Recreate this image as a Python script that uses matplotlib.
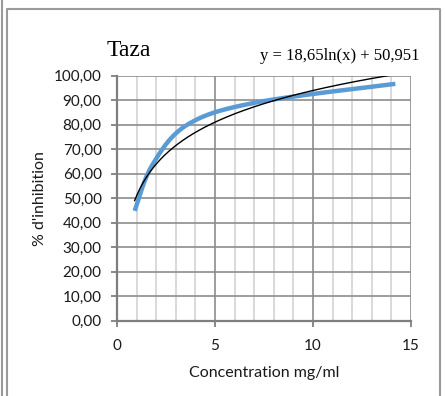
import numpy as np
import matplotlib
matplotlib.use("Agg")
import matplotlib.pyplot as plt
from matplotlib.lines import Line2D

# Measured inhibition data
concentration = [0.9, 1.8, 3.6, 7.1, 14.2]
inhibition = [44.8, 63.5, 80.0, 89.0, 96.6]

# Logarithmic trendline coefficients
trend_a = 18.65
trend_b = 50.951

title = "Taza"
equation = "y = 18,65ln(x) + 50,951"
x_label = "Concentration mg/ml"
y_label = "% d'inhibition"
y_ticks = list(range(0, 101, 10))
x_ticks = [0, 5, 10, 15]


def smooth_curve(xs, ys, n=40):
    """Cardinal (Catmull-Rom style) Bezier smoothing through the points."""
    p = np.column_stack([xs, ys]).astype(float)
    out = []
    for i in range(len(p) - 1):
        p0 = p[i - 1] if i > 0 else p[i]
        p1, p2 = p[i], p[i + 1]
        p3 = p[i + 2] if i + 2 < len(p) else p[i + 1]
        c1 = p1 + (p2 - p0) / 6.0
        c2 = p2 - (p3 - p1) / 6.0
        t = np.linspace(0, 1, n)[:, None]
        seg = ((1 - t) ** 3) * p1 + 3 * ((1 - t) ** 2) * t * c1 \
            + 3 * (1 - t) * t ** 2 * c2 + t ** 3 * p2
        out.append(seg if i == 0 else seg[1:])
    seg = np.vstack(out)
    return seg[:, 0], seg[:, 1]


W, H = 445, 396
fig = plt.figure(figsize=(W / 100, H / 100), dpi=100)

# Outer chart frame
fig.add_artist(Line2D([1.5 / W, 1.5 / W], [0, 1], color="#9a9a9a", lw=1.5,
                      transform=fig.transFigure))
fig.add_artist(Line2D([6.5 / W, 6.5 / W, 439.5 / W, 439.5 / W],
                      [0, 1 - 8.5 / H, 1 - 8.5 / H, 0],
                      color="#9a9a9a", lw=1.5, transform=fig.transFigure))

left, right = 117, 411
top, bottom = 75.5, 320.7
ax = fig.add_axes([left / W, 1 - bottom / H, (right - left) / W, (bottom - top) / H])
ax.set_xlim(0, 15)
ax.set_ylim(0, 100)

# Grid lines
for xv in range(1, 16):
    major = xv % 5 == 0
    ax.axvline(xv, color="#8c8c8c" if major else "#d0d0d0",
               lw=1.2 if major else 1.1, zorder=1)
for yv in y_ticks[1:]:
    ax.axhline(yv, color="#8c8c8c", lw=1.2, zorder=1)

for s in ["top", "right"]:
    ax.spines[s].set_visible(False)
for s in ["left", "bottom"]:
    ax.spines[s].set_color("#7f7f7f")
    ax.spines[s].set_linewidth(1.6)

ax.set_xticks(x_ticks)
ax.set_yticks(y_ticks)
ax.set_yticklabels([f"{v:.2f}".replace(".", ",") for v in y_ticks])
ax.tick_params(axis="both", direction="out", length=4, width=1.3, color="#7f7f7f",
               labelsize=11)
ax.tick_params(axis="x", pad=9)
ax.tick_params(axis="y", pad=7)
for lbl in ax.get_xticklabels() + ax.get_yticklabels():
    lbl.set_fontfamily("Lato")
    lbl.set_color("#1a1a1a")

# Data series (smoothed line)
sx, sy = smooth_curve(concentration, inhibition)
ax.plot(sx, sy, color="#5b9bd5", lw=3.2, solid_capstyle="butt", zorder=3)

# Logarithmic trendline
tx = np.linspace(min(concentration), max(concentration), 300)
ty = trend_a * np.log(tx) + trend_b
ax.plot(tx, ty, color="black", lw=1.0, zorder=4)

fig.text(264 / W, 1 - 373 / H, x_label, fontsize=11.5, family="Lato",
         color="#1a1a1a", ha="center", va="center")
fig.text(39.5 / W, 1 - 199 / H, y_label, fontsize=11.5, family="Lato",
         color="#1a1a1a", ha="center", va="center", rotation=90)

fig.text(129 / W, 1 - 50 / H, title, family="Liberation Serif", fontsize=17,
         ha="center", va="center")
fig.text(339.5 / W, 1 - 56 / H, equation, family="Liberation Serif", fontsize=12,
         ha="center", va="center")

fig.savefig("out.png", dpi=100)
